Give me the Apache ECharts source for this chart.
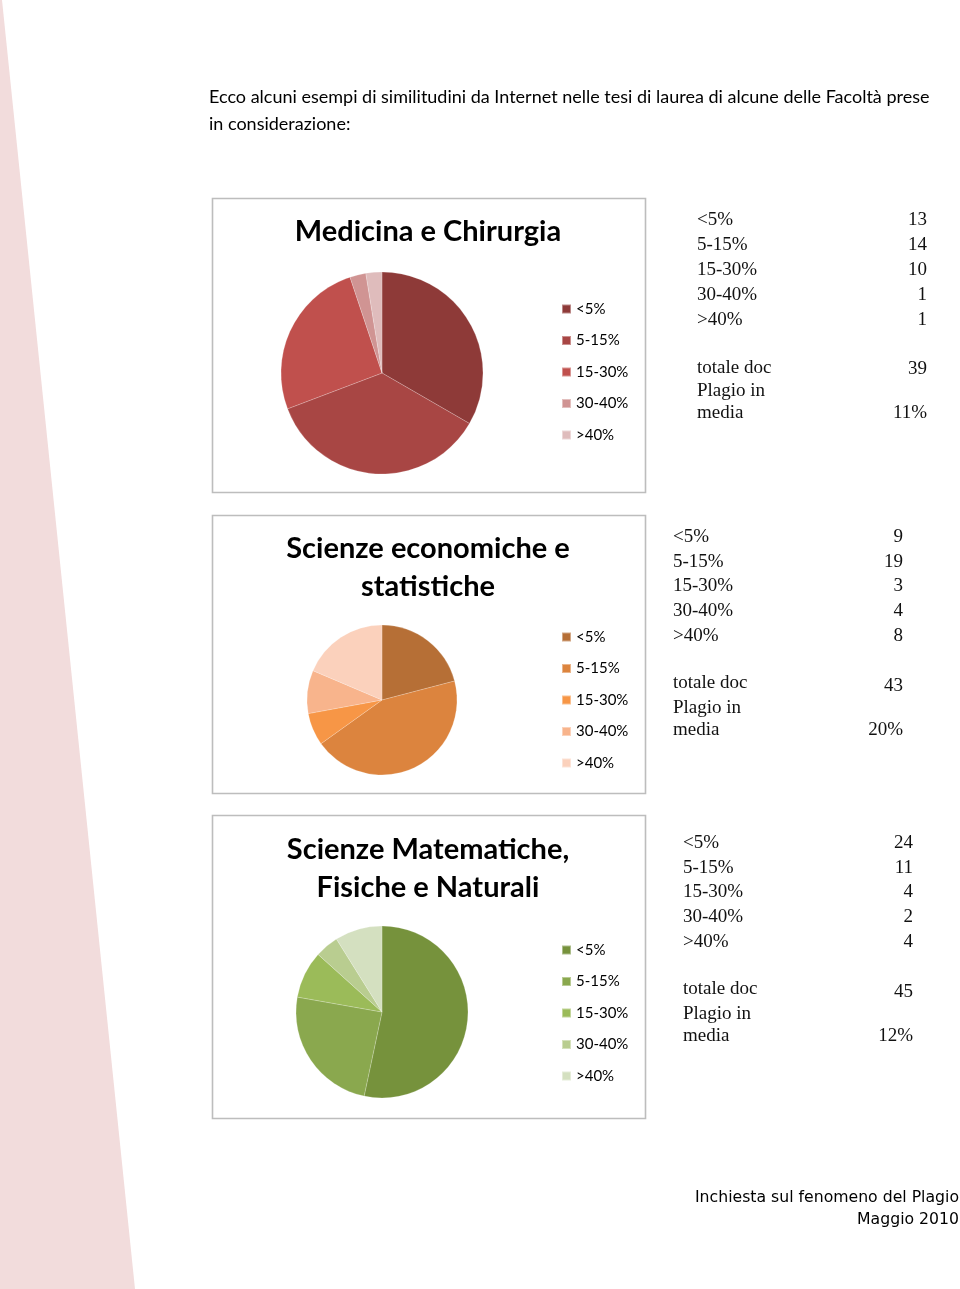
<!DOCTYPE html>
<html><head><meta charset="utf-8">
<style>html,body{margin:0;padding:0;background:#fff;}#c{width:960px;height:1289px;}</style>
<script src="https://cdn.jsdelivr.net/npm/echarts@6/dist/echarts.min.js"></script>
</head><body><div id="c"></div>
<script>
const categories = ['<5%', '5-15%', '15-30%', '30-40%', '>40%'];
const chartTitles = ['Medicina e Chirurgia', 'Scienze economiche e\nstatistiche', 'Scienze Matematiche,\nFisiche e Naturali'];
const medicinaValues = [13, 14, 10, 1, 1];
const economiaValues = [9, 19, 3, 4, 8];
const scienzeValues = [24, 11, 4, 2, 4];
const totaleDoc = [39, 43, 45];
const plagioMedia = ['11%', '20%', '12%'];
const introLines = ['Ecco alcuni esempi di similitudini da Internet nelle tesi di laurea di alcune delle Facoltà prese', 'in considerazione:'];
const footerLines = ['Inchiesta sul fenomeno del Plagio', 'Maggio 2010'];

const palettes = [
  ['#8e3a38', '#a84644', '#c0504d', '#d09493', '#dfbcbc'],
  ['#b66f36', '#dc843e', '#f79646', '#f8b48c', '#fbd1bc'],
  ['#76923c', '#8aa84e', '#9bbb59', '#b9cd90', '#d4e0c0']
];
const allValues = [medicinaValues, economiaValues, scienzeValues];

// layout
const boxes = [
  {x: 212, y: 198, w: 433, h: 294, titleY: [231], cx: 382, cy: 373, r: 101, legTop: 301, tx: 697, tr: 927, rows: [218, 243, 268, 293, 318], tot: 366, totV: 367, pl: 389, md: 411},
  {x: 212, y: 515, w: 433, h: 278, titleY: [548, 586], cx: 382, cy: 700, r: 75, legTop: 629, tx: 673, tr: 903, rows: [535, 560, 584, 609, 634], tot: 681, totV: 684, pl: 706, md: 728},
  {x: 212, y: 815, w: 433, h: 303, titleY: [849, 887], cx: 382, cy: 1012, r: 86, legTop: 942, tx: 683, tr: 913, rows: [841, 866, 890, 915, 940], tot: 987, totV: 990, pl: 1012, md: 1034}
];

const chart = echarts.init(document.getElementById('c'), null, {renderer: 'canvas'});
const sansFont = 'Lato';
const graphics = [];
graphics.push({type: 'polygon', z: -10, shape: {points: [[0, 0], [2, 0], [135, 1289], [0, 1289]]}, style: {fill: '#f2dcdc'}});
introLines.forEach((t, i) => graphics.push({type: 'text', x: 209, y: 97 + i * 27, style: {text: t, fill: '#000', font: '18px ' + sansFont, textVerticalAlign: 'middle'}}));
footerLines.forEach((t, i) => graphics.push({type: 'text', x: 959, y: 1198 + i * 22, style: {text: t, fill: '#000', font: '15.7px "DejaVu Sans"', textAlign: 'right', textVerticalAlign: 'middle'}}));

const series = [];
const legends = [];
boxes.forEach((b, k) => {
  graphics.push({type: 'rect', z: -5, shape: {x: b.x + 0.5, y: b.y + 0.5, width: b.w, height: b.h}, style: {fill: 'none', stroke: '#bdbdbd', lineWidth: 1.6}});
  chartTitles[k].split('\n').forEach((t, i) => graphics.push({type: 'text', x: 428, y: b.titleY[i] + 1, style: {text: t, fill: '#000', font: 'bold 29px ' + sansFont, textAlign: 'center', textVerticalAlign: 'middle'}}));
  const names = categories.map(c => k + '|' + c);
  series.push({
    type: 'pie', center: [b.cx, b.cy], radius: b.r, startAngle: 90, clockwise: true,
    label: {show: false}, labelLine: {show: false}, silent: true, animation: false,
    itemStyle: {borderColor: 'rgba(255,255,255,0.4)', borderWidth: 0.5},
    data: names.map((n, i) => ({name: n, value: allValues[k][i], itemStyle: {color: palettes[k][i]}}))
  });
  legends.push({
    orient: 'vertical', left: 561, top: b.legTop, padding: 0, itemWidth: 9, itemHeight: 9, itemGap: 15.5, icon: 'rect',
    selectedMode: false, data: names,
    formatter: n => n.split('|')[1],
    textStyle: {fontFamily: sansFont, fontSize: 15, color: '#000', lineHeight: 16}
  });
  const serif = '19px "Liberation Serif"';
  const dy = 2;
  categories.forEach((c, i) => {
    graphics.push({type: 'text', x: b.tx, y: b.rows[i] + dy, style: {text: c, fill: '#111', font: serif, textVerticalAlign: 'middle'}});
    graphics.push({type: 'text', x: b.tr, y: b.rows[i] + dy, style: {text: String(allValues[k][i]), fill: '#111', font: serif, textAlign: 'right', textVerticalAlign: 'middle'}});
  });
  graphics.push({type: 'text', x: b.tx, y: b.tot + dy, style: {text: 'totale doc', fill: '#111', font: serif, textVerticalAlign: 'middle'}});
  graphics.push({type: 'text', x: b.tr, y: b.totV + dy, style: {text: String(totaleDoc[k]), fill: '#111', font: serif, textAlign: 'right', textVerticalAlign: 'middle'}});
  graphics.push({type: 'text', x: b.tx, y: b.pl + dy, style: {text: 'Plagio in', fill: '#111', font: serif, textVerticalAlign: 'middle'}});
  graphics.push({type: 'text', x: b.tx, y: b.md + dy, style: {text: 'media', fill: '#111', font: serif, textVerticalAlign: 'middle'}});
  graphics.push({type: 'text', x: b.tr, y: b.md + dy, style: {text: plagioMedia[k], fill: '#111', font: serif, textAlign: 'right', textVerticalAlign: 'middle'}});
});

chart.setOption({
  animation: false,
  backgroundColor: '#fff',
  legend: legends,
  series: series,
  graphic: graphics
});
</script></body></html>
